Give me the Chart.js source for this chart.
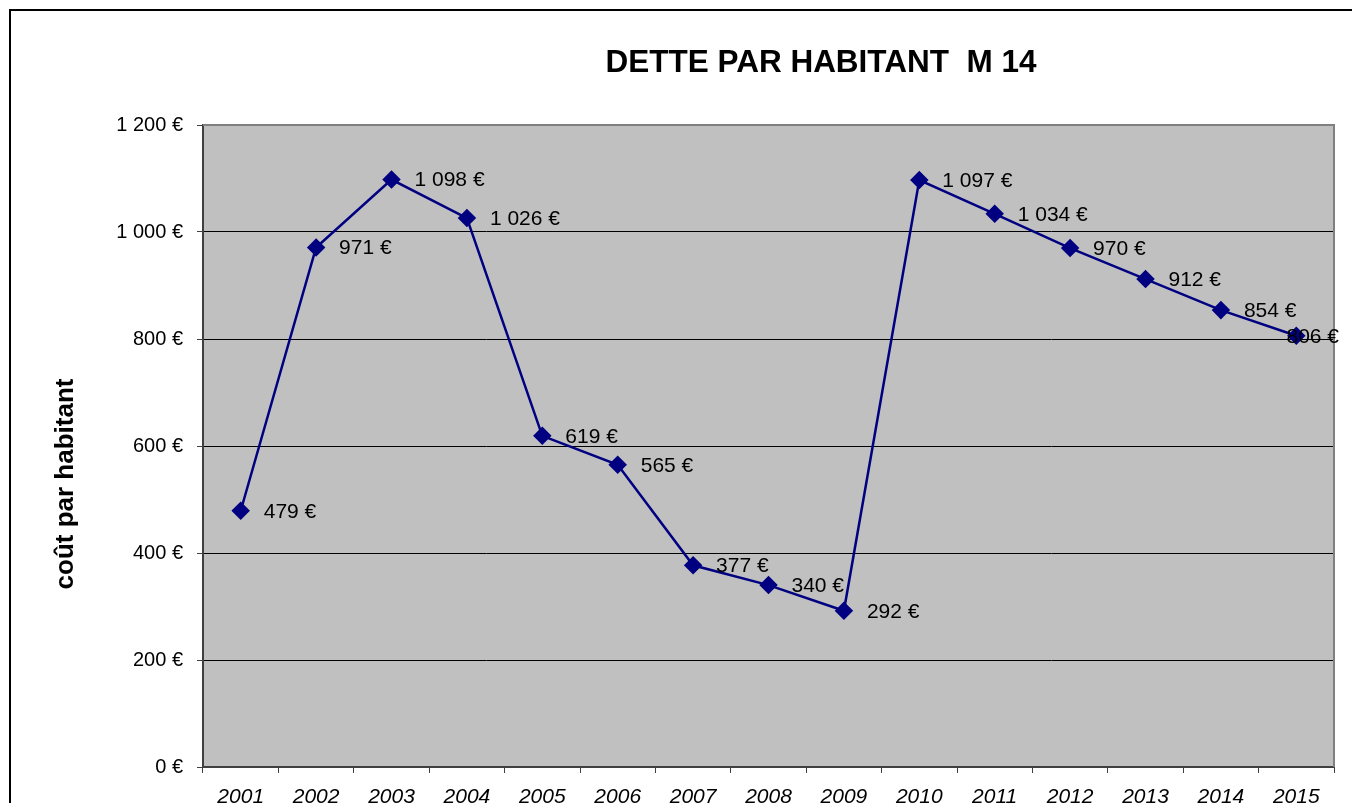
<!DOCTYPE html>
<html>
<head>
<meta charset="utf-8">
<script src="https://cdn.jsdelivr.net/npm/chart.js@4/dist/chart.umd.min.js"></script>
<style>
  html, body { margin: 0; padding: 0; background: #fff; }
  #wrap { width: 1352px; height: 803px; }
</style>
</head>
<body>
<div id="wrap"><canvas id="graph" width="1352" height="803"></canvas></div>
<script>
const annees = ['2001', '2002', '2003', '2004', '2005', '2006', '2007', '2008', '2009', '2010', '2011', '2012', '2013', '2014', '2015'];
const dette = [479, 971, 1098, 1026, 619, 565, 377, 340, 292, 1097, 1034, 970, 912, 854, 806];
const titre = 'DETTE PAR HABITANT  M 14';
const titreAxe = 'coût par habitant';

function euro(v) {
    return String(v).replace(/\B(?=(\d{3})+(?!\d))/g, ' ') + ' €';
}

// cadre, fond gris et textes
const decor = {
    id: 'decor',
    beforeDraw(chart) {
        const ctx = chart.ctx;
        const a = chart.chartArea;
        ctx.save();
        ctx.fillStyle = '#c0c0c0';
        ctx.fillRect(a.left, a.top, a.right - a.left, a.bottom - a.top);
        ctx.restore();
    },
    afterDraw(chart) {
        const ctx = chart.ctx;
        const a = chart.chartArea;
        ctx.save();
        // bord du graphique
        ctx.strokeStyle = '#808080';
        ctx.lineWidth = 2;
        ctx.beginPath();
        ctx.moveTo(a.left, a.top);
        ctx.lineTo(a.right, a.top);
        ctx.lineTo(a.right, a.bottom);
        ctx.stroke();
        // cadre extérieur
        ctx.strokeStyle = '#000';
        ctx.lineWidth = 2;
        ctx.strokeRect(10, 10, 1500, 1000);
        // titre
        ctx.fillStyle = '#000';
        ctx.font = 'bold 31.5px "Liberation Sans", Arial, sans-serif';
        ctx.textAlign = 'center';
        ctx.textBaseline = 'middle';
        ctx.fillText(titre, 821, 63);
        // titre de l'axe
        ctx.translate(66, 484);
        ctx.rotate(-Math.PI / 2);
        ctx.font = 'bold 26px "Liberation Sans", Arial, sans-serif';
        ctx.fillText(titreAxe, 0, 0);
        ctx.restore();

        // étiquettes de valeurs
        const meta = chart.getDatasetMeta(0);
        ctx.save();
        ctx.font = '21px "Liberation Sans", Arial, sans-serif';
        ctx.fillStyle = '#000';
        ctx.textAlign = 'left';
        ctx.textBaseline = 'middle';
        meta.data.forEach((pt, i) => {
            const txt = euro(dette[i]);
            const w = ctx.measureText(txt).width;
            let x = pt.x + 23;
            if (x + w > chart.width - 13) x = chart.width - 13 - w;
            ctx.fillText(txt, x, pt.y + 1);
        });
        ctx.restore();
    }
};

const ctx = document.getElementById('graph').getContext('2d');
const graph = new Chart(ctx, {
    type: 'line',
    data: {
        labels: annees,
        datasets: [{
            data: dette,
            borderColor: '#000080',
            backgroundColor: '#000080',
            borderWidth: 2.5,
            tension: 0,
            pointStyle: 'rectRot',
            pointRadius: 7.5,
            pointHoverRadius: 7.5,
            pointBackgroundColor: '#000080',
            pointBorderColor: '#000080'
        }]
    },
    options: {
        responsive: false,
        animation: false,
        layout: {
            padding: { top: 125, right: 18, left: 0, bottom: 0 }
        },
        scales: {
            x: {
                offset: true,
                afterFit(scale) { scale.height = 36; },
                grid: {
                    offset: true,
                    drawOnChartArea: false,
                    tickLength: 6,
                    tickColor: '#404040',
                    tickWidth: 1
                },
                border: { color: '#404040', width: 2 },
                ticks: {
                    color: '#000',
                    padding: 12,
                    font: { family: '"Liberation Sans", Arial, sans-serif', size: 21, style: 'italic' }
                }
            },
            y: {
                min: 0,
                max: 1200,
                afterFit(scale) { scale.width = 203; },
                grid: {
                    color: '#000',
                    lineWidth: 1,
                    tickLength: 6,
                    tickColor: '#404040'
                },
                border: { color: '#404040', width: 2 },
                ticks: {
                    stepSize: 200,
                    color: '#000',
                    padding: 14,
                    font: { family: '"Liberation Sans", Arial, sans-serif', size: 20 },
                    callback: v => euro(v)
                }
            }
        },
        plugins: {
            legend: { display: false },
            tooltip: { enabled: false }
        }
    },
    plugins: [decor]
});
</script>
</body>
</html>
